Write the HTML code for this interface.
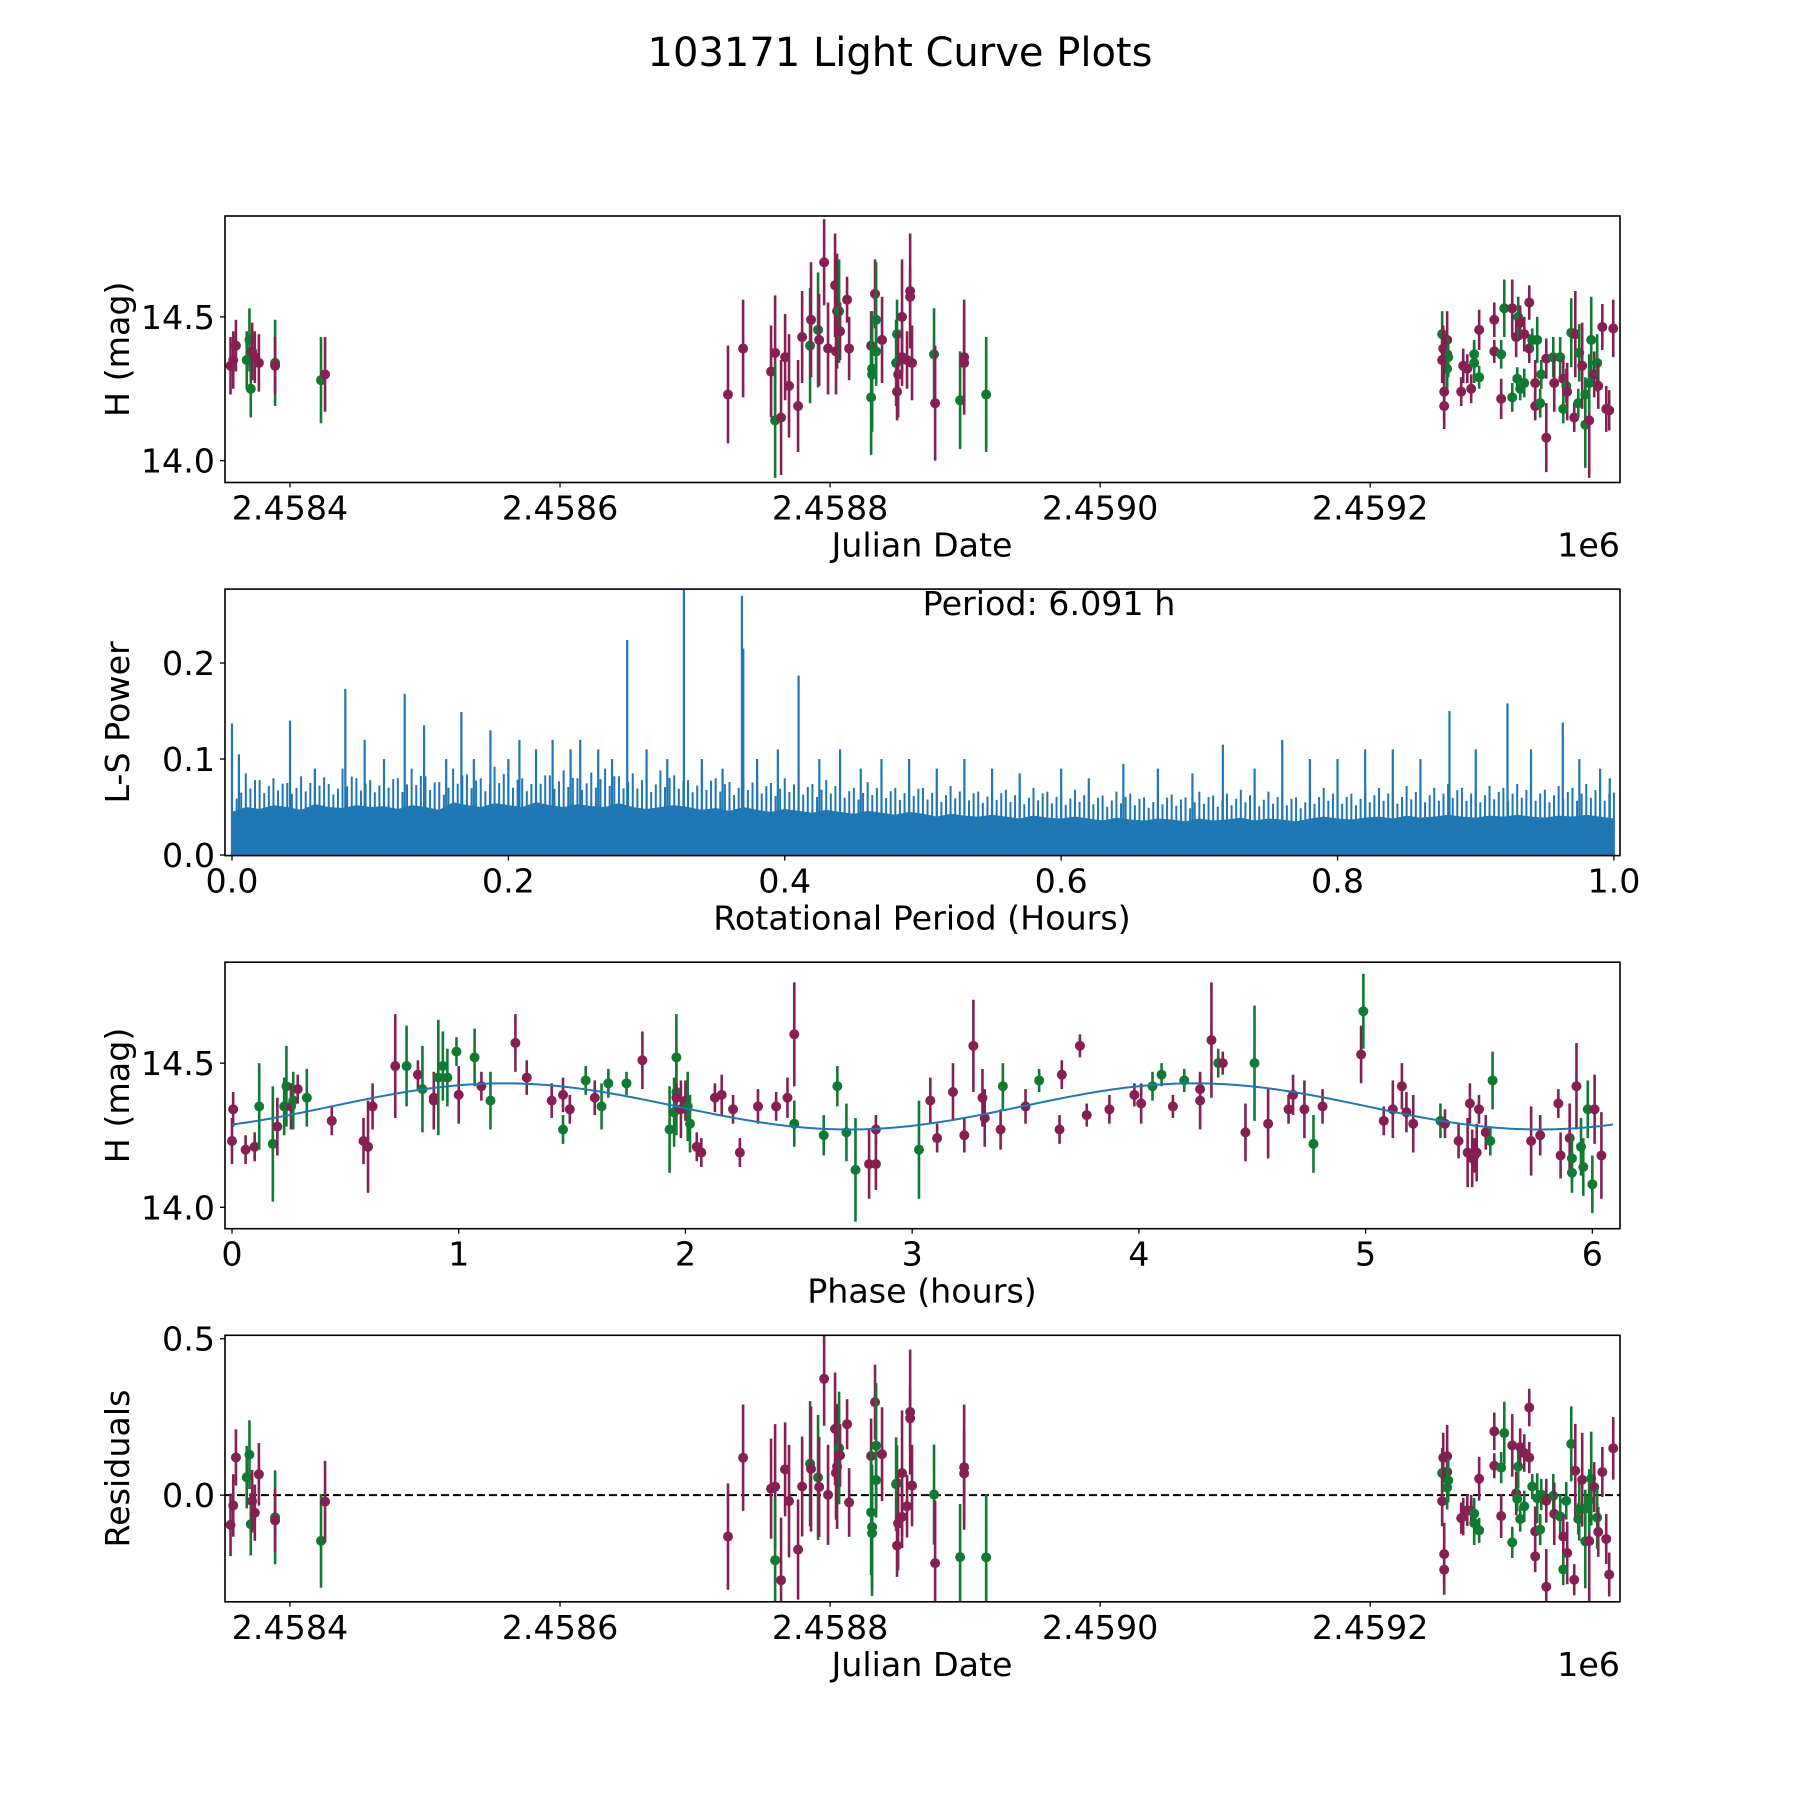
<!DOCTYPE html>
<html><head><meta charset="utf-8"><title>103171 Light Curve Plots</title>
<style>html,body{margin:0;padding:0;background:#fff}svg{display:block}text{font-family:"DejaVu Sans","Liberation Sans",sans-serif;fill:#000}</style>
</head><body>
<svg id="fig" width="1800" height="1800" viewBox="0 0 1800 1800" xmlns="http://www.w3.org/2000/svg">
<rect width="1800" height="1800" fill="#fff"/>
<text x="900" y="66" font-size="40" text-anchor="middle">103171 Light Curve Plots</text>
</svg>
<script>
// ---------- Light curve data (JD - 2458000) ----------
const jdOff = [356,358,360,368,370,371,372,374,377,389,389,423,426,
724.4,735.6,756.3,759.3,759.3,763.7,766.7,769.6,776.3,779.3,785.2,785.9,791.1,791.9,795.6,798.5,803.7,804.4,805.2,806.7,807.4,812.6,814.1,830.4,831.1,831.1,830.4,833.3,834.1,834.1,838.5,849.6,848.9,850.4,849.6,853.3,853.3,859.3,859.3,857,860.7,877,877.8,896.3,899.3,899.3,915.6,
1253.3,1257,1254.1,1257,1257.8,1253.3,1257,1254.8,1254.8,1267.4,1268.9,1271.9,1274.8,1277,1277,1280.7,1280.7,1291.9,1291.9,1297,1297,1299.3,1305.2,1305.2,1308.1,1308.9,1309.6,1311.1,1311.1,1314.1,1314.1,1317.8,1317.8,1320,1323.7,1322.2,1322.2,1325.9,1326.7,1330.4,1330.4,1335.6,1336.3,1340.7,1343,1345.2,1345.9,1343,1348.9,1351.9,1351.1,1354.1,1354.8,1357,1359.3,1359.3,1362.2,1362.2,1363.7,1365.9,1368.1,1368.9,1371.9,1374.8,1377,1380];
const magH = [14.33,14.35,14.40,14.35,14.42,14.25,14.38,14.36,14.34,14.34,14.33,14.28,14.30,
14.23,14.39,14.31,14.375,14.14,14.15,14.36,14.26,14.19,14.43,14.40,14.49,14.455,14.42,14.69,14.39,14.61,14.38,14.52,14.52,14.45,14.56,14.39,14.40,14.32,14.30,14.22,14.58,14.49,14.38,14.42,14.44,14.34,14.30,14.24,14.50,14.36,14.59,14.57,14.35,14.34,14.37,14.20,14.21,14.36,14.34,14.23,
14.44,14.42,14.39,14.37,14.36,14.35,14.32,14.24,14.19,14.24,14.33,14.32,14.25,14.37,14.34,14.455,14.29,14.49,14.38,14.37,14.215,14.53,14.53,14.22,14.43,14.285,14.50,14.48,14.25,14.44,14.27,14.55,14.39,14.42,14.42,14.27,14.19,14.20,14.30,14.08,14.355,14.36,14.27,14.36,14.285,14.26,14.24,14.18,14.445,14.44,14.15,14.20,14.375,14.33,14.23,14.125,14.14,14.27,14.42,14.30,14.34,14.26,14.465,14.18,14.175,14.46];
const errH = [0.1,0.1,0.09,0.1,0.11,0.1,0.1,0.09,0.1,0.15,0.1,0.15,0.13,
0.17,0.17,0.16,0.2,0.2,0.2,0.15,0.18,0.16,0.16,0.2,0.2,0.2,0.16,0.15,0.16,0.18,0.15,0.2,0.18,0.1,0.08,0.11,0.12,0.2,0.2,0.2,0.12,0.2,0.12,0.15,0.12,0.15,0.15,0.1,0.2,0.1,0.2,0.1,0.1,0.13,0.16,0.2,0.17,0.2,0.15,0.2,
0.08,0.1,0.08,0.07,0.07,0.08,0.07,0.1,0.08,0.05,0.06,0.05,0.05,0.05,0.07,0.07,0.04,0.06,0.04,0.05,0.07,0.1,0.1,0.05,0.07,0.04,0.07,0.06,0.04,0.06,0.05,0.06,0.05,0.04,0.08,0.08,0.05,0.05,0.05,0.12,0.07,0.07,0.1,0.07,0.07,0.06,0.1,0.05,0.12,0.15,0.05,0.05,0.1,0.15,0.06,0.15,0.2,0.1,0.15,0.08,0.1,0.08,0.08,0.08,0.07,0.1];
const bandH = "PPPGGGPPPGPGP"+"PPPPGPPPPPGPGPPPPPPGPPPPGGGPGGPGGPPPPPPPPGPGPP"+"GGPPPGPGPPPPPPGGPGPPGPGPGPGGPGPGPPGGPPGGPPGPGPGPGGPPGGPGGPGGPGPPPP";

// ---------- Periodogram data ----------
const lsBase = [0.045,0.05,0.048,0.052,0.05,0.047,0.053,0.05,0.049,0.052,0.05,0.051,0.048,0.052,0.05,0.047,0.055,0.052,0.05,0.054,0.052,0.05,0.055,0.052,0.05,0.053,0.051,0.05,0.054,0.05,0.048,0.05,0.052,0.05,0.047,0.049,0.046,0.05,0.047,0.045,0.048,0.046,0.044,0.047,0.045,0.043,0.046,0.044,0.042,0.045,0.043,0.04,0.043,0.041,0.04,0.042,0.04,0.038,0.041,0.039,0.038,0.04,0.038,0.036,0.039,0.037,0.036,0.038,0.037,0.035,0.038,0.036,0.037,0.039,0.036,0.038,0.037,0.035,0.038,0.04,0.038,0.037,0.039,0.04,0.038,0.041,0.039,0.04,0.042,0.04,0.039,0.041,0.04,0.042,0.04,0.039,0.041,0.04,0.042,0.04,0.038];
const lsTexture = [0.07,0.085,0.078,0.08,0.075,0.082,0.088,0.074,0.09,0.08,0.078,0.086,0.08,0.09,0.082,0.076,0.09,0.084,0.08,0.092,0.085,0.08,0.09,0.083,0.088,0.08,0.086,0.09,0.082,0.085,0.08,0.088,0.083,0.078,0.085,0.08,0.076,0.082,0.078,0.075,0.08,0.077,0.074,0.078,0.072,0.07,0.076,0.072,0.07,0.075,0.07,0.068,0.072,0.07,0.066,0.07,0.068,0.065,0.07,0.066,0.064,0.068,0.065,0.062,0.066,0.064,0.06,0.065,0.063,0.06,0.066,0.062,0.064,0.068,0.063,0.066,0.064,0.06,0.066,0.07,0.066,0.064,0.068,0.07,0.066,0.072,0.068,0.07,0.074,0.07,0.068,0.072,0.07,0.074,0.07,0.068,0.072,0.07,0.074,0.07,0.065];
const peakPeriods = [0.0,0.005,0.042,0.06,0.082,0.096,0.11,0.125,0.139,0.155,0.166,0.175,0.187,0.2,0.208,0.22,0.232,0.245,0.252,0.265,0.275,0.286,0.3,0.315,0.327,0.34,0.355,0.369,0.37,0.38,0.395,0.41,0.425,0.44,0.455,0.47,0.49,0.51,0.53,0.55,0.57,0.6,0.62,0.645,0.67,0.695,0.717,0.74,0.76,0.78,0.8,0.82,0.84,0.86,0.881,0.9,0.923,0.94,0.963,0.975,0.99,0.997];
const peakPowers = [0.137,0.105,0.14,0.09,0.173,0.12,0.1,0.168,0.135,0.1,0.149,0.1,0.13,0.1,0.12,0.11,0.12,0.11,0.12,0.11,0.1,0.224,0.11,0.1,0.276,0.1,0.09,0.27,0.215,0.1,0.11,0.187,0.1,0.11,0.09,0.1,0.1,0.09,0.1,0.09,0.085,0.09,0.08,0.095,0.09,0.085,0.115,0.09,0.12,0.1,0.1,0.11,0.11,0.1,0.15,0.11,0.158,0.11,0.138,0.1,0.09,0.08];

// ---------- Phase-folded data ----------
const phaseHrs = [0.00,0.005,0.06,0.10,0.12,0.18,0.20,0.23,0.24,0.26,0.27,0.29,0.33,0.44,0.58,0.60,0.62,0.72,0.77,0.82,0.84,0.89,0.89,0.91,0.93,0.95,0.99,1.00,1.07,1.10,1.14,1.25,1.30,1.41,1.46,1.46,1.49,1.56,1.60,1.63,1.66,1.74,1.81,1.93,1.95,1.96,1.96,1.96,1.98,2.00,2.01,2.02,2.05,2.07,2.13,2.16,2.21,2.24,2.32,2.40,2.45,2.48,2.48,2.61,2.67,2.71,2.75,2.81,2.84,2.84,3.03,3.08,3.11,3.18,3.23,3.27,3.31,3.32,3.39,3.40,3.50,3.56,3.65,3.66,3.74,3.77,3.87,3.98,4.01,4.06,4.10,4.15,4.20,4.27,4.27,4.32,4.35,4.37,4.47,4.51,4.57,4.66,4.68,4.73,4.77,4.81,4.98,4.99,5.08,5.12,5.16,5.18,5.21,5.33,5.35,5.41,5.45,5.46,5.47,5.48,5.49,5.50,5.53,5.55,5.56,5.73,5.77,5.85,5.86,5.90,5.91,5.91,5.93,5.95,5.96,5.98,6.00,6.01,6.04];
const phaseMag = [14.23,14.34,14.20,14.21,14.35,14.22,14.28,14.35,14.42,14.35,14.37,14.41,14.38,14.30,14.23,14.21,14.35,14.49,14.49,14.46,14.41,14.37,14.38,14.45,14.49,14.45,14.54,14.39,14.52,14.42,14.37,14.57,14.45,14.37,14.27,14.39,14.34,14.44,14.38,14.35,14.43,14.43,14.51,14.27,14.33,14.40,14.52,14.38,14.34,14.37,14.35,14.29,14.21,14.19,14.38,14.39,14.34,14.19,14.35,14.35,14.38,14.60,14.29,14.25,14.42,14.26,14.13,14.15,14.15,14.27,14.20,14.37,14.24,14.40,14.25,14.56,14.38,14.31,14.27,14.42,14.35,14.44,14.27,14.46,14.56,14.32,14.34,14.39,14.36,14.42,14.46,14.35,14.44,14.41,14.37,14.58,14.50,14.50,14.26,14.50,14.29,14.34,14.39,14.34,14.22,14.35,14.53,14.68,14.30,14.34,14.42,14.33,14.29,14.30,14.29,14.23,14.19,14.36,14.17,14.18,14.19,14.34,14.26,14.23,14.44,14.23,14.25,14.36,14.18,14.24,14.12,14.17,14.42,14.21,14.14,14.34,14.08,14.34,14.18];
const phaseErr = [0.08,0.06,0.05,0.05,0.15,0.2,0.1,0.1,0.14,0.08,0.1,0.05,0.1,0.05,0.08,0.16,0.08,0.18,0.14,0.05,0.15,0.1,0.05,0.2,0.12,0.1,0.05,0.1,0.1,0.05,0.1,0.1,0.06,0.06,0.05,0.06,0.05,0.05,0.06,0.08,0.05,0.04,0.1,0.15,0.12,0.15,0.15,0.05,0.1,0.07,0.12,0.1,0.05,0.05,0.05,0.07,0.05,0.05,0.06,0.05,0.07,0.18,0.08,0.07,0.07,0.1,0.18,0.12,0.09,0.05,0.17,0.08,0.05,0.1,0.06,0.16,0.1,0.1,0.07,0.08,0.06,0.04,0.05,0.05,0.04,0.04,0.05,0.04,0.07,0.05,0.04,0.04,0.04,0.05,0.1,0.2,0.05,0.04,0.1,0.2,0.12,0.05,0.07,0.1,0.1,0.06,0.1,0.13,0.05,0.1,0.08,0.07,0.1,0.06,0.05,0.06,0.12,0.07,0.1,0.06,0.1,0.05,0.06,0.05,0.1,0.12,0.07,0.05,0.08,0.12,0.07,0.08,0.15,0.1,0.1,0.1,0.1,0.12,0.15,0.06,0.06,0.1];
const phaseBand = "PPPPGGPGGPGPGPPPPPGPGPPGGGGPGPGPPPGPPGPGGGPGGGGPPPGGPPPPPPPPPPGGGGGPPPGPPPPPPPPGPGPPPPPPPGGPGPPPGPPGPPPPGPPGPPPPPGPPPPPPPPPGGPPPPPGGPGGGGPP";

// ---------- Fit model parameters ----------
const fitPeriod = [6.091];
const fitParams = [14.35, 0.08, 1.2]; // mean, amplitude, peak phase

const NS = "http://www.w3.org/2000/svg";
const svg = document.getElementById('fig');
const PURPLE = "#861f52", GREEN = "#117a32", BLUE = "#1f77b4";
const FS = 33.3;
const L = 225, R = 1620, H = 266.5, TOPS = [216, 589.1, 962.2, 1335.3];

function el(tag, attrs, parent) {
  const e = document.createElementNS(NS, tag);
  for (const k in attrs) e.setAttribute(k, attrs[k]);
  (parent || svg).appendChild(e);
  return e;
}
function model(p) {
  return fitParams[0] + fitParams[1] * Math.cos(2 * Math.PI * 2 * (p - fitParams[2]) / fitPeriod[0]);
}
function makeAxes(i, xlim, ylim, name) {
  const top = TOPS[i], bot = top + H;
  const g = el('g', {});
  
  
  const sx = v => L + (v - xlim[0]) / (xlim[1] - xlim[0]) * (R - L);
  const sy = v => bot - (v - ylim[0]) / (ylim[1] - ylim[0]) * H;
  const clipId = 'clip' + i;
  const cp = el('clipPath', {id: clipId}, g);
  el('rect', {x: L, y: top, width: R - L, height: H}, cp);
  const plot = el('g', {'clip-path': 'url(#' + clipId + ')'}, g);
  return {g, plot, sx, sy, top, bot};
}
function frame(ax, xticks, xfmt, yticks, yfmt) {
  const f = el('rect', {x: L, y: ax.top, width: R - L, height: H, fill: 'none', stroke: '#000', 'stroke-width': 1.6}, ax.g);
  
  
  xticks.forEach(v => {
    const x = ax.sx(v);
    el('line', {x1: x, x2: x, y1: ax.bot, y2: ax.bot + 5, stroke: '#000', 'stroke-width': 1.3}, ax.g);
    const t = el('text', {x: x, y: ax.bot + 37, 'font-size': FS, 'text-anchor': 'middle'}, ax.g);
    t.textContent = xfmt(v);
    
    
  });
  yticks.forEach(v => {
    const y = ax.sy(v);
    el('line', {x1: L - 5, x2: L, y1: y, y2: y, stroke: '#000', 'stroke-width': 1.3}, ax.g);
    const t = el('text', {x: L - 10, y: y + 12, 'font-size': FS, 'text-anchor': 'end'}, ax.g);
    t.textContent = yfmt(v);
    
    
  });
}
function labels(ax, xl, yl) {
  const t = el('text', {x: 922, y: ax.bot + 74, 'font-size': FS, 'text-anchor': 'middle'}, ax.g);
  t.textContent = xl;
  
  
  const cy = ax.top + H / 2;
  const u = el('text', {x: 129, y: cy, 'font-size': FS, 'text-anchor': 'middle', transform: 'rotate(-90 129 ' + cy + ')'}, ax.g);
  u.textContent = yl;
  
  
}
function errPoint(ax, x, y, e, col) {
  const px = ax.sx(x);
  const l = el('line', {x1: px, x2: px, y1: ax.sy(y - e), y2: ax.sy(y + e), stroke: col, 'stroke-width': 2.6}, ax.plot);
  
  
  const c = el('circle', {cx: px, cy: ax.sy(y), r: 5, fill: col}, ax.plot);
  
  
}

// ---- Panel 1: light curve ----
const jdX = [351.9, 1385];
const ax1 = makeAxes(0, jdX, [13.924, 14.851], 'light-curve-panel');
jdOff.forEach((d, i) => errPoint(ax1, d, magH[i], errH[i], bandH[i] === 'G' ? GREEN : PURPLE));
frame(ax1, [400, 600, 800, 1000, 1200], v => (2.4580 + v / 1e6).toFixed(4), [14.0, 14.5], v => v.toFixed(1));
labels(ax1, 'Julian Date', 'H (mag)');
const e1 = el('text', {x: R, y: ax1.bot + 74, 'font-size': FS, 'text-anchor': 'end'});
e1.textContent = '1e6';



// ---- Panel 2: periodogram ----
const ax2 = makeAxes(1, [-0.00506, 1.0044], [-0.0006, 0.277], 'periodogram-panel');
(function () {
  let pts = [[ax2.sx(0), ax2.sy(0)]];
  lsBase.forEach((v, i) => pts.push([ax2.sx(i / (lsBase.length - 1)), ax2.sy(v)]));
  pts.push([ax2.sx(1), ax2.sy(0)]);
  const poly = el('polygon', {points: pts.map(p => p.join(',')).join(' '), fill: BLUE}, ax2.plot);
  
  
  lsTexture.forEach((v, i) => {
    for (let k = 0; k < 3; k++) {
      const p = (i + k / 3) / (lsTexture.length - 1);
      if (p > 1) continue;
      const h = k === 0 ? v : lsBase[i] + (v - lsBase[i]) * (k === 1 ? 0.55 : 0.8);
      const ln = el('line', {x1: ax2.sx(p), x2: ax2.sx(p), y1: ax2.sy(0), y2: ax2.sy(h), stroke: BLUE, 'stroke-width': 2}, ax2.plot);
      
      
    }
  });
  peakPeriods.forEach((p, i) => {
    const ln = el('line', {x1: ax2.sx(p), x2: ax2.sx(p), y1: ax2.sy(0), y2: ax2.sy(peakPowers[i]), stroke: BLUE, 'stroke-width': 2.2}, ax2.plot);
    
    
  });
})();
frame(ax2, [0, 0.2, 0.4, 0.6, 0.8, 1.0], v => v.toFixed(1), [0.0, 0.1, 0.2], v => v.toFixed(1));
labels(ax2, 'Rotational Period (Hours)', 'L-S Power');
const pt = el('text', {x: 1049, y: 615, 'font-size': FS, 'text-anchor': 'middle'});
pt.textContent = 'Period: ' + fitPeriod[0].toFixed(3) + ' h';



// ---- Panel 3: phase folded ----
const ax3 = makeAxes(2, [-0.0309, 6.122], [13.926, 14.85], 'phase-folded-panel');
phaseHrs.forEach((p, i) => errPoint(ax3, p, phaseMag[i], phaseErr[i] || 0.1, phaseBand[i] === 'G' ? GREEN : PURPLE));
(function () {
  const pts = [];
  for (let k = 0; k <= 300; k++) { const p = fitPeriod[0] * k / 300; pts.push(ax3.sx(p) + ',' + ax3.sy(model(p))); }
  const pl = el('polyline', {points: pts.join(' '), fill: 'none', stroke: BLUE, 'stroke-width': 2}, ax3.plot);
  
  
})();
frame(ax3, [0, 1, 2, 3, 4, 5, 6], v => String(v), [14.0, 14.5], v => v.toFixed(1));
labels(ax3, 'Phase (hours)', 'H (mag)');

// ---- Panel 4: residuals ----
const ax4 = makeAxes(3, jdX, [-0.341, 0.511], 'residuals-panel');
const zl = el('line', {x1: L, x2: R, y1: ax4.sy(0), y2: ax4.sy(0), stroke: '#000', 'stroke-width': 2, 'stroke-dasharray': '8,4'}, ax4.plot);


jdOff.forEach((d, i) => {
  const ph = ((d * 24) % fitPeriod[0] + fitPeriod[0]) % fitPeriod[0];
  errPoint(ax4, d, magH[i] - model(ph), errH[i], bandH[i] === 'G' ? GREEN : PURPLE);
});
frame(ax4, [400, 600, 800, 1000, 1200], v => (2.4580 + v / 1e6).toFixed(4), [0.0, 0.5], v => v.toFixed(1));
labels(ax4, 'Julian Date', 'Residuals');
const e4 = el('text', {x: R, y: ax4.bot + 74, 'font-size': FS, 'text-anchor': 'end'});
e4.textContent = '1e6';


</script>
</body></html>
